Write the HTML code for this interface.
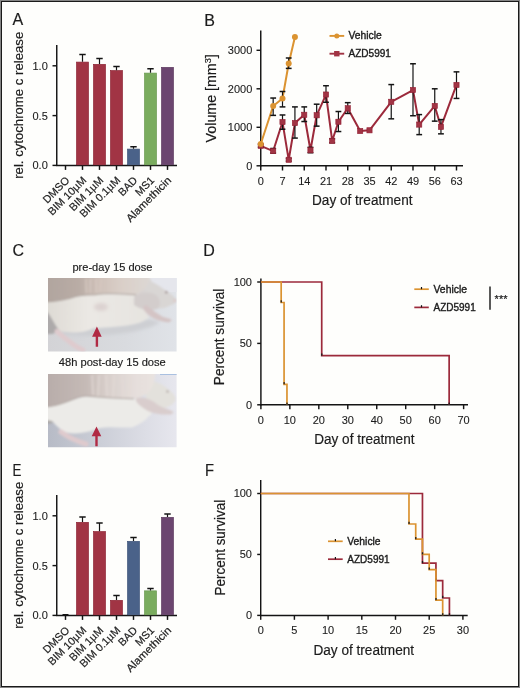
<!DOCTYPE html>
<html><head><meta charset="utf-8"><style>
html,body{margin:0;padding:0;background:#fefefc;width:520px;height:688px;overflow:hidden}
svg{display:block;will-change:transform}
text{font-family:'Liberation Sans',sans-serif;stroke:#1c1c1c;stroke-width:0.18px}
</style></head><body>
<svg width="520" height="688" viewBox="0 0 520 688">
<rect x="0" y="0" width="520" height="688" fill="#fefefc"/>
<text x="12.6" y="24.9" font-size="16" text-anchor="start" fill="#1c1c1c" >A</text>
<text transform="translate(22.8,105.3) rotate(-90)" x="0" y="0" font-size="13.5" text-anchor="middle" fill="#1c1c1c" textLength="147" lengthAdjust="spacingAndGlyphs">rel. cytochrome c release</text>
<line x1="56.75" y1="45" x2="56.75" y2="166.0" stroke="#141414" stroke-width="1.45"/>
<line x1="56.15" y1="165.4" x2="177" y2="165.4" stroke="#141414" stroke-width="1.45"/>
<line x1="52.5" y1="65.80000000000001" x2="56.75" y2="65.80000000000001" stroke="#141414" stroke-width="1.45"/>
<text x="47.8" y="69.7" font-size="11.7" text-anchor="end" fill="#1c1c1c" style="stroke-width:0.1px" textLength="15.29" lengthAdjust="spacingAndGlyphs" >1.0</text>
<line x1="52.5" y1="115.60000000000001" x2="56.75" y2="115.60000000000001" stroke="#141414" stroke-width="1.45"/>
<text x="47.8" y="119.5" font-size="11.7" text-anchor="end" fill="#1c1c1c" style="stroke-width:0.1px" textLength="15.29" lengthAdjust="spacingAndGlyphs" >0.5</text>
<line x1="52.5" y1="165.4" x2="56.75" y2="165.4" stroke="#141414" stroke-width="1.45"/>
<text x="47.8" y="169.3" font-size="11.7" text-anchor="end" fill="#1c1c1c" style="stroke-width:0.1px" textLength="15.29" lengthAdjust="spacingAndGlyphs" >0.0</text>
<line x1="65.5" y1="165.4" x2="65.5" y2="169.9" stroke="#141414" stroke-width="1.45"/>
<text transform="translate(70.1,181.0) rotate(-45)" font-size="10.8" text-anchor="end" fill="#1c1c1c">DMSO</text>
<line x1="82.5" y1="165.4" x2="82.5" y2="169.9" stroke="#141414" stroke-width="1.45"/>
<rect x="76.55" y="62.1" width="11.9" height="102.7" fill="#a13444" stroke="#8e2536" stroke-width="0.7"/>
<line x1="82.5" y1="54.5" x2="82.5" y2="61.75" stroke="#141414" stroke-width="1.2"/>
<line x1="79.3" y1="54.5" x2="85.7" y2="54.5" stroke="#141414" stroke-width="1.5"/>
<text transform="translate(87.1,181.0) rotate(-45)" font-size="10.8" text-anchor="end" fill="#1c1c1c">BIM 10µM</text>
<line x1="99.5" y1="165.4" x2="99.5" y2="169.9" stroke="#141414" stroke-width="1.45"/>
<rect x="93.55" y="64.35" width="11.9" height="100.45" fill="#a13444" stroke="#8e2536" stroke-width="0.7"/>
<line x1="99.5" y1="58.5" x2="99.5" y2="64" stroke="#141414" stroke-width="1.2"/>
<line x1="96.3" y1="58.5" x2="102.7" y2="58.5" stroke="#141414" stroke-width="1.5"/>
<text transform="translate(104.1,181.0) rotate(-45)" font-size="10.8" text-anchor="end" fill="#1c1c1c">BIM 1µM</text>
<line x1="116.5" y1="165.4" x2="116.5" y2="169.9" stroke="#141414" stroke-width="1.45"/>
<rect x="110.55" y="70.6" width="11.9" height="94.2" fill="#a13444" stroke="#8e2536" stroke-width="0.7"/>
<line x1="116.5" y1="66.5" x2="116.5" y2="70.25" stroke="#141414" stroke-width="1.2"/>
<line x1="113.3" y1="66.5" x2="119.7" y2="66.5" stroke="#141414" stroke-width="1.5"/>
<text transform="translate(121.1,181.0) rotate(-45)" font-size="10.8" text-anchor="end" fill="#1c1c1c">BIM 0.1µM</text>
<line x1="133.5" y1="165.4" x2="133.5" y2="169.9" stroke="#141414" stroke-width="1.45"/>
<rect x="127.55" y="149.1" width="11.9" height="15.700000000000006" fill="#4a6289" stroke="#3f5479" stroke-width="0.7"/>
<line x1="133.5" y1="146.75" x2="133.5" y2="148.75" stroke="#141414" stroke-width="1.2"/>
<line x1="130.3" y1="146.75" x2="136.7" y2="146.75" stroke="#141414" stroke-width="1.5"/>
<text transform="translate(138.1,181.0) rotate(-45)" font-size="10.8" text-anchor="end" fill="#1c1c1c">BAD</text>
<line x1="150.5" y1="165.4" x2="150.5" y2="169.9" stroke="#141414" stroke-width="1.45"/>
<rect x="144.55" y="73.1" width="11.9" height="91.7" fill="#7aac5e" stroke="#6a9a50" stroke-width="0.7"/>
<line x1="150.5" y1="68.75" x2="150.5" y2="72.75" stroke="#141414" stroke-width="1.2"/>
<line x1="147.3" y1="68.75" x2="153.7" y2="68.75" stroke="#141414" stroke-width="1.5"/>
<text transform="translate(155.1,181.0) rotate(-45)" font-size="10.8" text-anchor="end" fill="#1c1c1c">MS1</text>
<line x1="167.5" y1="165.4" x2="167.5" y2="169.9" stroke="#141414" stroke-width="1.45"/>
<rect x="161.55" y="67.35" width="11.9" height="97.45" fill="#6c4670" stroke="#5e3b60" stroke-width="0.7"/>
<text transform="translate(172.1,181.0) rotate(-45)" font-size="10.8" text-anchor="end" fill="#1c1c1c" textLength="59" lengthAdjust="spacingAndGlyphs">Alamethicin</text>
<text x="12.6" y="475.7" font-size="16" text-anchor="start" fill="#1c1c1c" textLength="8.9" lengthAdjust="spacingAndGlyphs" >E</text>
<text transform="translate(22.8,555.3) rotate(-90)" x="0" y="0" font-size="13.5" text-anchor="middle" fill="#1c1c1c" textLength="147" lengthAdjust="spacingAndGlyphs">rel. cytochrome c release</text>
<line x1="56.75" y1="495" x2="56.75" y2="616.0" stroke="#141414" stroke-width="1.45"/>
<line x1="56.15" y1="615.4" x2="177" y2="615.4" stroke="#141414" stroke-width="1.45"/>
<line x1="52.5" y1="515.8" x2="56.75" y2="515.8" stroke="#141414" stroke-width="1.45"/>
<text x="47.8" y="519.7" font-size="11.7" text-anchor="end" fill="#1c1c1c" style="stroke-width:0.1px" textLength="15.29" lengthAdjust="spacingAndGlyphs" >1.0</text>
<line x1="52.5" y1="565.6" x2="56.75" y2="565.6" stroke="#141414" stroke-width="1.45"/>
<text x="47.8" y="569.5" font-size="11.7" text-anchor="end" fill="#1c1c1c" style="stroke-width:0.1px" textLength="15.29" lengthAdjust="spacingAndGlyphs" >0.5</text>
<line x1="52.5" y1="615.4" x2="56.75" y2="615.4" stroke="#141414" stroke-width="1.45"/>
<text x="47.8" y="619.3" font-size="11.7" text-anchor="end" fill="#1c1c1c" style="stroke-width:0.1px" textLength="15.29" lengthAdjust="spacingAndGlyphs" >0.0</text>
<line x1="65.5" y1="615.4" x2="65.5" y2="619.9" stroke="#141414" stroke-width="1.45"/>
<line x1="62.5" y1="614.5" x2="68.5" y2="614.5" stroke="#141414" stroke-width="1.0"/>
<text transform="translate(70.1,631.0) rotate(-45)" font-size="10.8" text-anchor="end" fill="#1c1c1c">DMSO</text>
<line x1="82.5" y1="615.4" x2="82.5" y2="619.9" stroke="#141414" stroke-width="1.45"/>
<rect x="76.55" y="522.35" width="11.9" height="92.44999999999997" fill="#a13444" stroke="#8e2536" stroke-width="0.7"/>
<line x1="82.5" y1="517" x2="82.5" y2="522" stroke="#141414" stroke-width="1.2"/>
<line x1="79.3" y1="517" x2="85.7" y2="517" stroke="#141414" stroke-width="1.5"/>
<text transform="translate(87.1,631.0) rotate(-45)" font-size="10.8" text-anchor="end" fill="#1c1c1c">BIM 10µM</text>
<line x1="99.5" y1="615.4" x2="99.5" y2="619.9" stroke="#141414" stroke-width="1.45"/>
<rect x="93.55" y="531.6" width="11.9" height="83.19999999999997" fill="#a13444" stroke="#8e2536" stroke-width="0.7"/>
<line x1="99.5" y1="523" x2="99.5" y2="531.25" stroke="#141414" stroke-width="1.2"/>
<line x1="96.3" y1="523" x2="102.7" y2="523" stroke="#141414" stroke-width="1.5"/>
<text transform="translate(104.1,631.0) rotate(-45)" font-size="10.8" text-anchor="end" fill="#1c1c1c">BIM 1µM</text>
<line x1="116.5" y1="615.4" x2="116.5" y2="619.9" stroke="#141414" stroke-width="1.45"/>
<rect x="110.55" y="600.35" width="11.9" height="14.449999999999978" fill="#a13444" stroke="#8e2536" stroke-width="0.7"/>
<line x1="116.5" y1="595.5" x2="116.5" y2="600" stroke="#141414" stroke-width="1.2"/>
<line x1="113.3" y1="595.5" x2="119.7" y2="595.5" stroke="#141414" stroke-width="1.5"/>
<text transform="translate(121.1,631.0) rotate(-45)" font-size="10.8" text-anchor="end" fill="#1c1c1c">BIM 0.1µM</text>
<line x1="133.5" y1="615.4" x2="133.5" y2="619.9" stroke="#141414" stroke-width="1.45"/>
<rect x="127.55" y="541.35" width="11.9" height="73.44999999999997" fill="#4a6289" stroke="#3f5479" stroke-width="0.7"/>
<line x1="133.5" y1="537.5" x2="133.5" y2="541" stroke="#141414" stroke-width="1.2"/>
<line x1="130.3" y1="537.5" x2="136.7" y2="537.5" stroke="#141414" stroke-width="1.5"/>
<text transform="translate(138.1,631.0) rotate(-45)" font-size="10.8" text-anchor="end" fill="#1c1c1c">BAD</text>
<line x1="150.5" y1="615.4" x2="150.5" y2="619.9" stroke="#141414" stroke-width="1.45"/>
<rect x="144.55" y="590.85" width="11.9" height="23.949999999999978" fill="#7aac5e" stroke="#6a9a50" stroke-width="0.7"/>
<line x1="150.5" y1="588.5" x2="150.5" y2="590.5" stroke="#141414" stroke-width="1.2"/>
<line x1="147.3" y1="588.5" x2="153.7" y2="588.5" stroke="#141414" stroke-width="1.5"/>
<text transform="translate(155.1,631.0) rotate(-45)" font-size="10.8" text-anchor="end" fill="#1c1c1c">MS1</text>
<line x1="167.5" y1="615.4" x2="167.5" y2="619.9" stroke="#141414" stroke-width="1.45"/>
<rect x="161.55" y="517.35" width="11.9" height="97.44999999999997" fill="#6c4670" stroke="#5e3b60" stroke-width="0.7"/>
<line x1="167.5" y1="514" x2="167.5" y2="517" stroke="#141414" stroke-width="1.2"/>
<line x1="164.3" y1="514" x2="170.7" y2="514" stroke="#141414" stroke-width="1.5"/>
<text transform="translate(172.1,631.0) rotate(-45)" font-size="10.8" text-anchor="end" fill="#1c1c1c" textLength="59" lengthAdjust="spacingAndGlyphs">Alamethicin</text>
<text x="204.2" y="25.8" font-size="16" text-anchor="start" fill="#1c1c1c" >B</text>
<line x1="260.75" y1="30.5" x2="260.75" y2="166.4" stroke="#141414" stroke-width="1.45"/>
<line x1="260.15" y1="165.8" x2="463" y2="165.8" stroke="#141414" stroke-width="1.45"/>
<line x1="256.5" y1="165.8" x2="260.75" y2="165.8" stroke="#141414" stroke-width="1.45"/>
<text x="252.3" y="169.5" font-size="11.7" text-anchor="end" fill="#1c1c1c" style="stroke-width:0.1px" textLength="6.12" lengthAdjust="spacingAndGlyphs" >0</text>
<line x1="256.5" y1="127.30000000000001" x2="260.75" y2="127.30000000000001" stroke="#141414" stroke-width="1.45"/>
<text x="252.3" y="131.0" font-size="11.7" text-anchor="end" fill="#1c1c1c" style="stroke-width:0.1px" textLength="24.46" lengthAdjust="spacingAndGlyphs" >1000</text>
<line x1="256.5" y1="88.80000000000001" x2="260.75" y2="88.80000000000001" stroke="#141414" stroke-width="1.45"/>
<text x="252.3" y="92.5" font-size="11.7" text-anchor="end" fill="#1c1c1c" style="stroke-width:0.1px" textLength="24.46" lengthAdjust="spacingAndGlyphs" >2000</text>
<line x1="256.5" y1="50.30000000000001" x2="260.75" y2="50.30000000000001" stroke="#141414" stroke-width="1.45"/>
<text x="252.3" y="54.0" font-size="11.7" text-anchor="end" fill="#1c1c1c" style="stroke-width:0.1px" textLength="24.46" lengthAdjust="spacingAndGlyphs" >3000</text>
<line x1="260.75" y1="165.8" x2="260.75" y2="170.5" stroke="#141414" stroke-width="1.45"/>
<text x="260.75" y="184.9" font-size="11.7" text-anchor="middle" fill="#1c1c1c" style="stroke-width:0.1px" textLength="6.12" lengthAdjust="spacingAndGlyphs" >0</text>
<line x1="282.499" y1="165.8" x2="282.499" y2="170.5" stroke="#141414" stroke-width="1.45"/>
<text x="282.499" y="184.9" font-size="11.7" text-anchor="middle" fill="#1c1c1c" style="stroke-width:0.1px" textLength="6.12" lengthAdjust="spacingAndGlyphs" >7</text>
<line x1="304.248" y1="165.8" x2="304.248" y2="170.5" stroke="#141414" stroke-width="1.45"/>
<text x="304.248" y="184.9" font-size="11.7" text-anchor="middle" fill="#1c1c1c" style="stroke-width:0.1px" textLength="12.23" lengthAdjust="spacingAndGlyphs" >14</text>
<line x1="325.997" y1="165.8" x2="325.997" y2="170.5" stroke="#141414" stroke-width="1.45"/>
<text x="325.997" y="184.9" font-size="11.7" text-anchor="middle" fill="#1c1c1c" style="stroke-width:0.1px" textLength="12.23" lengthAdjust="spacingAndGlyphs" >21</text>
<line x1="347.746" y1="165.8" x2="347.746" y2="170.5" stroke="#141414" stroke-width="1.45"/>
<text x="347.746" y="184.9" font-size="11.7" text-anchor="middle" fill="#1c1c1c" style="stroke-width:0.1px" textLength="12.23" lengthAdjust="spacingAndGlyphs" >28</text>
<line x1="369.495" y1="165.8" x2="369.495" y2="170.5" stroke="#141414" stroke-width="1.45"/>
<text x="369.495" y="184.9" font-size="11.7" text-anchor="middle" fill="#1c1c1c" style="stroke-width:0.1px" textLength="12.23" lengthAdjust="spacingAndGlyphs" >35</text>
<line x1="391.244" y1="165.8" x2="391.244" y2="170.5" stroke="#141414" stroke-width="1.45"/>
<text x="391.244" y="184.9" font-size="11.7" text-anchor="middle" fill="#1c1c1c" style="stroke-width:0.1px" textLength="12.23" lengthAdjust="spacingAndGlyphs" >42</text>
<line x1="412.99300000000005" y1="165.8" x2="412.99300000000005" y2="170.5" stroke="#141414" stroke-width="1.45"/>
<text x="412.99300000000005" y="184.9" font-size="11.7" text-anchor="middle" fill="#1c1c1c" style="stroke-width:0.1px" textLength="12.23" lengthAdjust="spacingAndGlyphs" >49</text>
<line x1="434.742" y1="165.8" x2="434.742" y2="170.5" stroke="#141414" stroke-width="1.45"/>
<text x="434.742" y="184.9" font-size="11.7" text-anchor="middle" fill="#1c1c1c" style="stroke-width:0.1px" textLength="12.23" lengthAdjust="spacingAndGlyphs" >56</text>
<line x1="456.491" y1="165.8" x2="456.491" y2="170.5" stroke="#141414" stroke-width="1.45"/>
<text x="456.491" y="184.9" font-size="11.7" text-anchor="middle" fill="#1c1c1c" style="stroke-width:0.1px" textLength="12.23" lengthAdjust="spacingAndGlyphs" >63</text>
<text x="312" y="204.5" font-size="14" text-anchor="start" fill="#1c1c1c" textLength="100.5" lengthAdjust="spacingAndGlyphs" >Day of treatment</text>
<text transform="translate(216.0,98.3) rotate(-90)" font-size="14" text-anchor="middle" fill="#1c1c1c" textLength="88.2" lengthAdjust="spacingAndGlyphs">Volume [mm<tspan dy="-5" font-size="9">3</tspan><tspan dy="5">]</tspan></text>
<polyline points="260.75,145.82 273.18,151.05 282.50,122.06 288.71,159.79 294.93,123.07 304.25,114.79 310.46,150.28 316.68,115.29 326.00,94.54 332.21,140.81 338.43,121.79 347.75,108.28 360.17,131.03 369.50,130.30 391.24,101.81 412.99,90.03 419.21,124.57 434.74,105.93 440.96,126.92 456.49,84.95" fill="none" stroke="#9c2a3b" stroke-width="2.0" stroke-linejoin="round"/>
<line x1="260.75" y1="147.32000000000002" x2="260.75" y2="144.24" stroke="#141414" stroke-width="1.2"/>
<line x1="257.85" y1="147.32000000000002" x2="263.65" y2="147.32000000000002" stroke="#141414" stroke-width="1.5"/>
<line x1="257.85" y1="144.24" x2="263.65" y2="144.24" stroke="#141414" stroke-width="1.5"/>
<line x1="273.178" y1="153.095" x2="273.178" y2="148.47500000000002" stroke="#141414" stroke-width="1.2"/>
<line x1="270.278" y1="153.095" x2="276.078" y2="153.095" stroke="#141414" stroke-width="1.5"/>
<line x1="270.278" y1="148.47500000000002" x2="276.078" y2="148.47500000000002" stroke="#141414" stroke-width="1.5"/>
<line x1="282.499" y1="129.22500000000002" x2="282.499" y2="114.98000000000002" stroke="#141414" stroke-width="1.2"/>
<line x1="279.59900000000005" y1="129.22500000000002" x2="285.399" y2="129.22500000000002" stroke="#141414" stroke-width="1.5"/>
<line x1="279.59900000000005" y1="114.98000000000002" x2="285.399" y2="114.98000000000002" stroke="#141414" stroke-width="1.5"/>
<line x1="288.713" y1="161.18" x2="288.713" y2="158.485" stroke="#141414" stroke-width="1.2"/>
<line x1="285.81300000000005" y1="161.18" x2="291.613" y2="161.18" stroke="#141414" stroke-width="1.5"/>
<line x1="285.81300000000005" y1="158.485" x2="291.613" y2="158.485" stroke="#141414" stroke-width="1.5"/>
<line x1="294.927" y1="138.08" x2="294.927" y2="106.89500000000001" stroke="#141414" stroke-width="1.2"/>
<line x1="292.02700000000004" y1="138.08" x2="297.827" y2="138.08" stroke="#141414" stroke-width="1.5"/>
<line x1="292.02700000000004" y1="106.89500000000001" x2="297.827" y2="106.89500000000001" stroke="#141414" stroke-width="1.5"/>
<line x1="304.248" y1="121.525" x2="304.248" y2="106.89500000000001" stroke="#141414" stroke-width="1.2"/>
<line x1="301.348" y1="121.525" x2="307.14799999999997" y2="121.525" stroke="#141414" stroke-width="1.5"/>
<line x1="301.348" y1="106.89500000000001" x2="307.14799999999997" y2="106.89500000000001" stroke="#141414" stroke-width="1.5"/>
<line x1="310.462" y1="152.71" x2="310.462" y2="147.32000000000002" stroke="#141414" stroke-width="1.2"/>
<line x1="307.562" y1="152.71" x2="313.36199999999997" y2="152.71" stroke="#141414" stroke-width="1.5"/>
<line x1="307.562" y1="147.32000000000002" x2="313.36199999999997" y2="147.32000000000002" stroke="#141414" stroke-width="1.5"/>
<line x1="316.676" y1="126.14500000000001" x2="316.676" y2="104.20000000000002" stroke="#141414" stroke-width="1.2"/>
<line x1="313.776" y1="126.14500000000001" x2="319.57599999999996" y2="126.14500000000001" stroke="#141414" stroke-width="1.5"/>
<line x1="313.776" y1="104.20000000000002" x2="319.57599999999996" y2="104.20000000000002" stroke="#141414" stroke-width="1.5"/>
<line x1="325.997" y1="102.275" x2="325.997" y2="85.72000000000001" stroke="#141414" stroke-width="1.2"/>
<line x1="323.09700000000004" y1="102.275" x2="328.897" y2="102.275" stroke="#141414" stroke-width="1.5"/>
<line x1="323.09700000000004" y1="85.72000000000001" x2="328.897" y2="85.72000000000001" stroke="#141414" stroke-width="1.5"/>
<line x1="332.211" y1="142.70000000000002" x2="332.211" y2="138.85000000000002" stroke="#141414" stroke-width="1.2"/>
<line x1="329.31100000000004" y1="142.70000000000002" x2="335.111" y2="142.70000000000002" stroke="#141414" stroke-width="1.5"/>
<line x1="329.31100000000004" y1="138.85000000000002" x2="335.111" y2="138.85000000000002" stroke="#141414" stroke-width="1.5"/>
<line x1="338.425" y1="131.53500000000003" x2="338.425" y2="111.51500000000001" stroke="#141414" stroke-width="1.2"/>
<line x1="335.52500000000003" y1="131.53500000000003" x2="341.325" y2="131.53500000000003" stroke="#141414" stroke-width="1.5"/>
<line x1="335.52500000000003" y1="111.51500000000001" x2="341.325" y2="111.51500000000001" stroke="#141414" stroke-width="1.5"/>
<line x1="347.746" y1="113.44000000000001" x2="347.746" y2="102.66000000000001" stroke="#141414" stroke-width="1.2"/>
<line x1="344.846" y1="113.44000000000001" x2="350.64599999999996" y2="113.44000000000001" stroke="#141414" stroke-width="1.5"/>
<line x1="344.846" y1="102.66000000000001" x2="350.64599999999996" y2="102.66000000000001" stroke="#141414" stroke-width="1.5"/>
<line x1="391.244" y1="118.83000000000001" x2="391.244" y2="84.56500000000001" stroke="#141414" stroke-width="1.2"/>
<line x1="388.34400000000005" y1="118.83000000000001" x2="394.144" y2="118.83000000000001" stroke="#141414" stroke-width="1.5"/>
<line x1="388.34400000000005" y1="84.56500000000001" x2="394.144" y2="84.56500000000001" stroke="#141414" stroke-width="1.5"/>
<line x1="412.99300000000005" y1="115.75000000000001" x2="412.99300000000005" y2="63.775000000000006" stroke="#141414" stroke-width="1.2"/>
<line x1="410.0930000000001" y1="115.75000000000001" x2="415.89300000000003" y2="115.75000000000001" stroke="#141414" stroke-width="1.5"/>
<line x1="410.0930000000001" y1="63.775000000000006" x2="415.89300000000003" y2="63.775000000000006" stroke="#141414" stroke-width="1.5"/>
<line x1="419.207" y1="134.615" x2="419.207" y2="114.59500000000001" stroke="#141414" stroke-width="1.2"/>
<line x1="416.307" y1="134.615" x2="422.10699999999997" y2="134.615" stroke="#141414" stroke-width="1.5"/>
<line x1="416.307" y1="114.59500000000001" x2="422.10699999999997" y2="114.59500000000001" stroke="#141414" stroke-width="1.5"/>
<line x1="434.742" y1="121.14000000000001" x2="434.742" y2="88.80000000000001" stroke="#141414" stroke-width="1.2"/>
<line x1="431.84200000000004" y1="121.14000000000001" x2="437.642" y2="121.14000000000001" stroke="#141414" stroke-width="1.5"/>
<line x1="431.84200000000004" y1="88.80000000000001" x2="437.642" y2="88.80000000000001" stroke="#141414" stroke-width="1.5"/>
<line x1="440.956" y1="133.84500000000003" x2="440.956" y2="119.60000000000001" stroke="#141414" stroke-width="1.2"/>
<line x1="438.05600000000004" y1="133.84500000000003" x2="443.856" y2="133.84500000000003" stroke="#141414" stroke-width="1.5"/>
<line x1="438.05600000000004" y1="119.60000000000001" x2="443.856" y2="119.60000000000001" stroke="#141414" stroke-width="1.5"/>
<line x1="456.491" y1="98.42500000000001" x2="456.491" y2="71.86000000000001" stroke="#141414" stroke-width="1.2"/>
<line x1="453.591" y1="98.42500000000001" x2="459.39099999999996" y2="98.42500000000001" stroke="#141414" stroke-width="1.5"/>
<line x1="453.591" y1="71.86000000000001" x2="459.39099999999996" y2="71.86000000000001" stroke="#141414" stroke-width="1.5"/>
<rect x="258.15" y="143.22" width="5.2" height="5.2" fill="#a13444" stroke="#931f33" stroke-width="0.6"/>
<rect x="270.58" y="148.45" width="5.2" height="5.2" fill="#a13444" stroke="#931f33" stroke-width="0.6"/>
<rect x="279.90" y="119.46" width="5.2" height="5.2" fill="#a13444" stroke="#931f33" stroke-width="0.6"/>
<rect x="286.11" y="157.19" width="5.2" height="5.2" fill="#a13444" stroke="#931f33" stroke-width="0.6"/>
<rect x="292.33" y="120.47" width="5.2" height="5.2" fill="#a13444" stroke="#931f33" stroke-width="0.6"/>
<rect x="301.65" y="112.19" width="5.2" height="5.2" fill="#a13444" stroke="#931f33" stroke-width="0.6"/>
<rect x="307.86" y="147.68" width="5.2" height="5.2" fill="#a13444" stroke="#931f33" stroke-width="0.6"/>
<rect x="314.08" y="112.69" width="5.2" height="5.2" fill="#a13444" stroke="#931f33" stroke-width="0.6"/>
<rect x="323.40" y="91.94" width="5.2" height="5.2" fill="#a13444" stroke="#931f33" stroke-width="0.6"/>
<rect x="329.61" y="138.21" width="5.2" height="5.2" fill="#a13444" stroke="#931f33" stroke-width="0.6"/>
<rect x="335.82" y="119.19" width="5.2" height="5.2" fill="#a13444" stroke="#931f33" stroke-width="0.6"/>
<rect x="345.15" y="105.68" width="5.2" height="5.2" fill="#a13444" stroke="#931f33" stroke-width="0.6"/>
<rect x="357.57" y="128.43" width="5.2" height="5.2" fill="#a13444" stroke="#931f33" stroke-width="0.6"/>
<rect x="366.89" y="127.70" width="5.2" height="5.2" fill="#a13444" stroke="#931f33" stroke-width="0.6"/>
<rect x="388.64" y="99.21" width="5.2" height="5.2" fill="#a13444" stroke="#931f33" stroke-width="0.6"/>
<rect x="410.39" y="87.43" width="5.2" height="5.2" fill="#a13444" stroke="#931f33" stroke-width="0.6"/>
<rect x="416.61" y="121.97" width="5.2" height="5.2" fill="#a13444" stroke="#931f33" stroke-width="0.6"/>
<rect x="432.14" y="103.33" width="5.2" height="5.2" fill="#a13444" stroke="#931f33" stroke-width="0.6"/>
<rect x="438.36" y="124.32" width="5.2" height="5.2" fill="#a13444" stroke="#931f33" stroke-width="0.6"/>
<rect x="453.89" y="82.35" width="5.2" height="5.2" fill="#a13444" stroke="#931f33" stroke-width="0.6"/>
<polyline points="260.75,144.05 273.18,106.05 282.50,98.54 288.71,63.54 294.93,37.06" fill="none" stroke="#db9331" stroke-width="2.0" stroke-linejoin="round"/>
<line x1="273.178" y1="115.36500000000001" x2="273.178" y2="98.04" stroke="#141414" stroke-width="1.2"/>
<line x1="270.278" y1="115.36500000000001" x2="276.078" y2="115.36500000000001" stroke="#141414" stroke-width="1.5"/>
<line x1="270.278" y1="98.04" x2="276.078" y2="98.04" stroke="#141414" stroke-width="1.5"/>
<line x1="282.499" y1="106.89500000000001" x2="282.499" y2="91.49500000000002" stroke="#141414" stroke-width="1.2"/>
<line x1="279.59900000000005" y1="106.89500000000001" x2="285.399" y2="106.89500000000001" stroke="#141414" stroke-width="1.5"/>
<line x1="279.59900000000005" y1="91.49500000000002" x2="285.399" y2="91.49500000000002" stroke="#141414" stroke-width="1.5"/>
<line x1="288.713" y1="68.39500000000001" x2="288.713" y2="58.000000000000014" stroke="#141414" stroke-width="1.2"/>
<line x1="285.81300000000005" y1="68.39500000000001" x2="291.613" y2="68.39500000000001" stroke="#141414" stroke-width="1.5"/>
<line x1="285.81300000000005" y1="58.000000000000014" x2="291.613" y2="58.000000000000014" stroke="#141414" stroke-width="1.5"/>
<circle cx="260.75" cy="144.05" r="3.0" fill="#db9331"/>
<circle cx="273.18" cy="106.05" r="3.0" fill="#db9331"/>
<circle cx="282.50" cy="98.54" r="3.0" fill="#db9331"/>
<circle cx="288.71" cy="63.54" r="3.0" fill="#db9331"/>
<circle cx="294.93" cy="37.06" r="3.0" fill="#db9331"/>
<line x1="329.5" y1="35.9" x2="344.2" y2="35.9" stroke="#db9331" stroke-width="1.9"/>
<circle cx="336.8" cy="35.9" r="2.5" fill="#db9331"/>
<text x="348.5" y="39.2" font-size="10.6" text-anchor="start" fill="#1c1c1c" style="stroke-width:0.38px" textLength="33.3" lengthAdjust="spacingAndGlyphs" >Vehicle</text>
<line x1="329.5" y1="53.7" x2="344.2" y2="53.7" stroke="#a13444" stroke-width="1.9"/>
<rect x="334.1" y="51" width="5.4" height="5.4" fill="#a13444"/>
<text x="348.5" y="57.2" font-size="10.6" text-anchor="start" fill="#1c1c1c" style="stroke-width:0.38px" textLength="42.4" lengthAdjust="spacingAndGlyphs" >AZD5991</text>
<text x="12.6" y="255.6" font-size="16" text-anchor="start" fill="#1c1c1c" >C</text>
<text x="112.4" y="270.7" font-size="11.8" text-anchor="middle" fill="#1c1c1c" textLength="80" lengthAdjust="spacingAndGlyphs" >pre-day 15 dose</text>
<text x="112.3" y="365.9" font-size="11.8" text-anchor="middle" fill="#1c1c1c" textLength="107" lengthAdjust="spacingAndGlyphs" >48h post-day 15 dose</text>
<defs>
<filter id="bl1" x="-10%" y="-10%" width="120%" height="120%"><feGaussianBlur stdDeviation="0.8"/></filter>
<filter id="bl2" x="-20%" y="-20%" width="140%" height="140%"><feGaussianBlur stdDeviation="1.5"/></filter>
<clipPath id="cp1"><rect x="48" y="278" width="128.6" height="73.5"/></clipPath>
<clipPath id="cp2"><rect x="48" y="374" width="128.6" height="73.3"/></clipPath>
<linearGradient id="glv1" gradientUnits="userSpaceOnUse" x1="48" y1="0" x2="150" y2="0">
 <stop offset="0" stop-color="#b1a59f"/><stop offset="0.3" stop-color="#b9aca5"/><stop offset="0.5" stop-color="#cfc1b9"/><stop offset="0.7" stop-color="#d9cec7"/><stop offset="1" stop-color="#ddd8d4"/>
</linearGradient>
<linearGradient id="bg1" gradientUnits="userSpaceOnUse" x1="48" y1="0" x2="177" y2="0">
 <stop offset="0" stop-color="#d3d3d6"/><stop offset="0.6" stop-color="#d9dbdf"/><stop offset="1" stop-color="#e0e3e8"/>
</linearGradient>
<linearGradient id="body1" gradientUnits="userSpaceOnUse" x1="48" y1="0" x2="150" y2="0">
 <stop offset="0" stop-color="#dedbd5"/><stop offset="0.4" stop-color="#ebe8e4"/><stop offset="1" stop-color="#e6e4e0"/>
</linearGradient>
<linearGradient id="glv2" gradientUnits="userSpaceOnUse" x1="48" y1="0" x2="156" y2="0">
 <stop offset="0" stop-color="#b8adaa"/><stop offset="0.35" stop-color="#c5bab6"/><stop offset="0.55" stop-color="#d8cfcb"/><stop offset="0.8" stop-color="#e5dedb"/><stop offset="1" stop-color="#e9e3e0"/>
</linearGradient>
<linearGradient id="bg2" gradientUnits="userSpaceOnUse" x1="48" y1="0" x2="177" y2="0">
 <stop offset="0" stop-color="#b7bbc6"/><stop offset="0.4" stop-color="#cbced7"/><stop offset="0.75" stop-color="#dcdde5"/><stop offset="1" stop-color="#e7e7ee"/>
</linearGradient>
</defs>
<g clip-path="url(#cp1)">
 <rect x="48" y="278" width="129" height="74" fill="url(#bg1)"/>
 <rect x="140" y="278" width="37" height="14" fill="#e5e6ec"/>
 <g filter="url(#bl1)">
  <path d="M60,328 C90,329 120,328 148,319 L160,322 C150,330 120,335 90,336 C75,336 65,335 60,334 Z" fill="#cdcfd3" filter="url(#bl2)"/>
  <path d="M46,311 L52,316 L57,324 L60,331 L52,334 L46,334 Z" fill="#adaaaa"/>
  <path d="M46,301.5 C60,300.5 70,298 80,295 C95,293 110,293 135,294.5 L142,302 L149,318 C142,322 139,323 135,324 C125,326.5 110,327 94,328 C84,333 72,333.5 60,331 C56,327 52,318 46,310 Z" fill="url(#body1)"/>
  <ellipse cx="101" cy="307" rx="7" ry="4" fill="#dcd2d0" filter="url(#bl2)"/>
  
  <path d="M134,292 C140,286 146,281 151,279 L152,300 L136,300 Z" fill="#d8d3d2"/>
  <path d="M144,279 C152,281 160,286 165,290 C170,293 174,296 176.5,300 C176.5,303 173,304.5 170,305.5 C166,307.5 162,309 158,308.5 L145,300 Z" fill="#d9d6d4"/>
  <path d="M134,297 C140,292 149,291 156,295 C161,299 161,306 157,309 C150,311 141,310 134,305 Z" fill="#d3cdcc"/>
  <path d="M146,305 C152,310 158,314 163,317 C166,318 169,318 172,320 L169,322.5 C162,322 156,320 150,316 C146,313 143,310 143,307 Z" fill="#d4c4c5"/>
  <path d="M46,276 H150 C149,284 146,290 136,294.5 C120,293.5 105,292.5 95,294.5 C85,294.5 78,295 70,298 C60,300.5 52,301.5 46,301.5 Z" fill="url(#glv1)"/>
  <path d="M46,301.8 C52,301.8 60,300.8 70,298.3 C78,295.3 85,294.8 95,294.8 C105,292.8 120,293.8 136,294.8" stroke="#a99d97" stroke-width="1" fill="none"/>
  <path d="M86,279 L86.5,293 M90.5,279 L90,293 M96,279 L96.5,293 M101,279 L100,292" stroke="#d8cbc3" stroke-width="1.3" fill="none"/>
  <path d="M57,331.5 C63,337 70,342 74,345 C77,347 80,349 83,350" stroke="#dfcbce" stroke-width="5" fill="none" stroke-linecap="round"/>
  <circle cx="166.3" cy="292.3" r="1.1" fill="#8a7474"/>
  <circle cx="175" cy="300.5" r="1.6" fill="#dcc8c8"/>
 </g>
 <path d="M96.9,326.5 L101.7,336.8 L98.1,336.8 L98.1,346.8 L95.7,346.8 L95.7,336.8 L92.1,336.8 Z" fill="#b02a44"/>
</g>
<g clip-path="url(#cp2)">
 <rect x="48" y="374" width="129" height="74" fill="url(#bg2)"/>
 <line x1="160" y1="374.5" x2="177" y2="374.5" stroke="#a9c0e0" stroke-width="1"/>
 <g filter="url(#bl1)">
  <path d="M46,403 L56,404 L56,422 L46,424 Z" fill="#a9a5a2"/>
  <path d="M46,406 C60,404 72,400 84,396 C100,396 120,398 140,399 L150,403 L154,406 C152,412 151,416 149,416 C145,421 140,424 132,427.5 C120,428 108,426 97,429 C88,432 78,435 66,432.5 C60,430 56,425 52,421 L46,420 Z" fill="#ecebe8"/>
  
  <path d="M146,381 C154,380 162,384 168,389 C173,393 176,396 175.5,400 C174,404 170,406 166,407.5 C160,409 152,408.5 146,405 Z" fill="#e3e1dc"/>
  <path d="M136,398 C144,396 152,400 158,405 C163,408 168,409 174,412 L171,414.5 C163,415 155,414 148,411 C142,408 138,404 136,401 Z" fill="#d9cdcd"/>
  <path d="M46,372 H155 C156,380 152,388 149,392 C143,397 138,398 134,398.5 C120,398 105,397.5 90,396 C84,395 79,397 76,398 C66,402 56,406 46,406.5 Z" fill="url(#glv2)"/>
  <path d="M46,406.8 C56,406.3 66,402.3 76,398.3 C79,397.3 84,395.3 90,396.3 C105,397.8 120,398.3 134,398.8" stroke="#aca09b" stroke-width="1" fill="none"/>
  <path d="M92,375 L93,395 M99,375 L98,396 M106,375 L107,396 M114,375 L113,397 M122,375 L123,397 M131,375 L130,397" stroke="#e4dbd7" stroke-width="1.2" fill="none"/>
  <path d="M61,432 C68,437 76,441 86,444" stroke="#dfcacd" stroke-width="5" fill="none" stroke-linecap="round"/>
  <circle cx="167.5" cy="391.6" r="1" fill="#9a8888"/>
 </g>
 <path d="M96.5,426.5 L101.3,436.3 L97.7,436.3 L97.7,446.3 L95.3,446.3 L95.3,436.3 L91.7,436.3 Z" fill="#b02a44"/>
</g>

<text x="203.2" y="255.8" font-size="16" text-anchor="start" fill="#1c1c1c" >D</text>
<line x1="260.9" y1="278.5" x2="260.9" y2="405.40000000000003" stroke="#141414" stroke-width="1.45"/>
<line x1="260.29999999999995" y1="404.8" x2="468" y2="404.8" stroke="#141414" stroke-width="1.45"/>
<line x1="257.2" y1="404.8" x2="260.9" y2="404.8" stroke="#141414" stroke-width="1.45"/>
<text x="252" y="408.5" font-size="11.7" text-anchor="end" fill="#1c1c1c" style="stroke-width:0.1px" textLength="6.12" lengthAdjust="spacingAndGlyphs" >0</text>
<line x1="257.2" y1="343.4" x2="260.9" y2="343.4" stroke="#141414" stroke-width="1.45"/>
<text x="252" y="347.1" font-size="11.7" text-anchor="end" fill="#1c1c1c" style="stroke-width:0.1px" textLength="12.23" lengthAdjust="spacingAndGlyphs" >50</text>
<line x1="257.2" y1="282.0" x2="260.9" y2="282.0" stroke="#141414" stroke-width="1.45"/>
<text x="252" y="285.7" font-size="11.7" text-anchor="end" fill="#1c1c1c" style="stroke-width:0.1px" textLength="18.35" lengthAdjust="spacingAndGlyphs" >100</text>
<line x1="260.9" y1="404.8" x2="260.9" y2="409.2" stroke="#141414" stroke-width="1.45"/>
<text x="260.9" y="424.3" font-size="11.7" text-anchor="middle" fill="#1c1c1c" style="stroke-width:0.1px" textLength="6.12" lengthAdjust="spacingAndGlyphs" >0</text>
<line x1="289.85999999999996" y1="404.8" x2="289.85999999999996" y2="409.2" stroke="#141414" stroke-width="1.45"/>
<text x="289.85999999999996" y="424.3" font-size="11.7" text-anchor="middle" fill="#1c1c1c" style="stroke-width:0.1px" textLength="12.23" lengthAdjust="spacingAndGlyphs" >10</text>
<line x1="318.82" y1="404.8" x2="318.82" y2="409.2" stroke="#141414" stroke-width="1.45"/>
<text x="318.82" y="424.3" font-size="11.7" text-anchor="middle" fill="#1c1c1c" style="stroke-width:0.1px" textLength="12.23" lengthAdjust="spacingAndGlyphs" >20</text>
<line x1="347.78" y1="404.8" x2="347.78" y2="409.2" stroke="#141414" stroke-width="1.45"/>
<text x="347.78" y="424.3" font-size="11.7" text-anchor="middle" fill="#1c1c1c" style="stroke-width:0.1px" textLength="12.23" lengthAdjust="spacingAndGlyphs" >30</text>
<line x1="376.74" y1="404.8" x2="376.74" y2="409.2" stroke="#141414" stroke-width="1.45"/>
<text x="376.74" y="424.3" font-size="11.7" text-anchor="middle" fill="#1c1c1c" style="stroke-width:0.1px" textLength="12.23" lengthAdjust="spacingAndGlyphs" >40</text>
<line x1="405.69999999999993" y1="404.8" x2="405.69999999999993" y2="409.2" stroke="#141414" stroke-width="1.45"/>
<text x="405.69999999999993" y="424.3" font-size="11.7" text-anchor="middle" fill="#1c1c1c" style="stroke-width:0.1px" textLength="12.23" lengthAdjust="spacingAndGlyphs" >50</text>
<line x1="434.65999999999997" y1="404.8" x2="434.65999999999997" y2="409.2" stroke="#141414" stroke-width="1.45"/>
<text x="434.65999999999997" y="424.3" font-size="11.7" text-anchor="middle" fill="#1c1c1c" style="stroke-width:0.1px" textLength="12.23" lengthAdjust="spacingAndGlyphs" >60</text>
<line x1="463.62" y1="404.8" x2="463.62" y2="409.2" stroke="#141414" stroke-width="1.45"/>
<text x="463.62" y="424.3" font-size="11.7" text-anchor="middle" fill="#1c1c1c" style="stroke-width:0.1px" textLength="12.23" lengthAdjust="spacingAndGlyphs" >70</text>
<text x="314.2" y="443.8" font-size="14" text-anchor="start" fill="#1c1c1c" textLength="100.3" lengthAdjust="spacingAndGlyphs" >Day of treatment</text>
<text transform="translate(224.2,336.9) rotate(-90)" font-size="14" text-anchor="middle" fill="#1c1c1c" textLength="96.5" lengthAdjust="spacingAndGlyphs">Percent survival</text>
<path d="M260.90,282.00 H321.72 V355.68 H449.14 V404.80" fill="none" stroke="#9c2a3b" stroke-width="1.7"/>
<rect x="321.12" y="353.48" width="1.3" height="2.2" fill="#1c1c1c"/>
<rect x="448.54" y="402.60" width="1.3" height="2.2" fill="#1c1c1c"/>
<path d="M260.90,282.00 H281.17 V302.51 H284.07 V384.29 H286.96 V404.80" fill="none" stroke="#db9331" stroke-width="1.7"/>
<rect x="280.57" y="300.31" width="1.3" height="2.2" fill="#1c1c1c"/>
<rect x="283.47" y="382.09" width="1.3" height="2.2" fill="#1c1c1c"/>
<rect x="286.36" y="402.60" width="1.3" height="2.2" fill="#1c1c1c"/>
<line x1="414.3" y1="289.2" x2="428.8" y2="289.2" stroke="#db9331" stroke-width="1.7"/>
<line x1="421.5" y1="287.0" x2="421.5" y2="289.2" stroke="#141414" stroke-width="1.2"/>
<text x="433.5" y="292.8" font-size="10.6" text-anchor="start" fill="#1c1c1c" style="stroke-width:0.38px" textLength="33.5" lengthAdjust="spacingAndGlyphs" >Vehicle</text>
<line x1="414.3" y1="307.4" x2="428.8" y2="307.4" stroke="#9c2a3b" stroke-width="1.7"/>
<line x1="421.5" y1="305.2" x2="421.5" y2="307.4" stroke="#141414" stroke-width="1.2"/>
<text x="433.5" y="311.2" font-size="10.6" text-anchor="start" fill="#1c1c1c" style="stroke-width:0.38px" textLength="42.2" lengthAdjust="spacingAndGlyphs" >AZD5991</text>
<line x1="490" y1="286.6" x2="490" y2="309.8" stroke="#141414" stroke-width="1.4"/>
<text x="494.6" y="302.6" font-size="10.5" text-anchor="start" fill="#1c1c1c" textLength="13" lengthAdjust="spacingAndGlyphs" >***</text>
<text x="204.9" y="475.6" font-size="16" text-anchor="start" fill="#1c1c1c" textLength="9.0" lengthAdjust="spacingAndGlyphs" >F</text>
<line x1="260.7" y1="480" x2="260.7" y2="616.0" stroke="#141414" stroke-width="1.45"/>
<line x1="260.09999999999997" y1="615.4" x2="467.7" y2="615.4" stroke="#141414" stroke-width="1.45"/>
<line x1="257.2" y1="615.4" x2="260.7" y2="615.4" stroke="#141414" stroke-width="1.45"/>
<text x="252" y="619.1" font-size="11.7" text-anchor="end" fill="#1c1c1c" style="stroke-width:0.1px" textLength="6.12" lengthAdjust="spacingAndGlyphs" >0</text>
<line x1="257.2" y1="554.45" x2="260.7" y2="554.45" stroke="#141414" stroke-width="1.45"/>
<text x="252" y="558.15" font-size="11.7" text-anchor="end" fill="#1c1c1c" style="stroke-width:0.1px" textLength="12.23" lengthAdjust="spacingAndGlyphs" >50</text>
<line x1="257.2" y1="493.5" x2="260.7" y2="493.5" stroke="#141414" stroke-width="1.45"/>
<text x="252" y="497.2" font-size="11.7" text-anchor="end" fill="#1c1c1c" style="stroke-width:0.1px" textLength="18.35" lengthAdjust="spacingAndGlyphs" >100</text>
<line x1="260.7" y1="615.4" x2="260.7" y2="619.8" stroke="#141414" stroke-width="1.45"/>
<text x="260.7" y="634.3" font-size="11.7" text-anchor="middle" fill="#1c1c1c" style="stroke-width:0.1px" textLength="6.12" lengthAdjust="spacingAndGlyphs" >0</text>
<line x1="294.4" y1="615.4" x2="294.4" y2="619.8" stroke="#141414" stroke-width="1.45"/>
<text x="294.4" y="634.3" font-size="11.7" text-anchor="middle" fill="#1c1c1c" style="stroke-width:0.1px" textLength="6.12" lengthAdjust="spacingAndGlyphs" >5</text>
<line x1="328.1" y1="615.4" x2="328.1" y2="619.8" stroke="#141414" stroke-width="1.45"/>
<text x="328.1" y="634.3" font-size="11.7" text-anchor="middle" fill="#1c1c1c" style="stroke-width:0.1px" textLength="12.23" lengthAdjust="spacingAndGlyphs" >10</text>
<line x1="361.8" y1="615.4" x2="361.8" y2="619.8" stroke="#141414" stroke-width="1.45"/>
<text x="361.8" y="634.3" font-size="11.7" text-anchor="middle" fill="#1c1c1c" style="stroke-width:0.1px" textLength="12.23" lengthAdjust="spacingAndGlyphs" >15</text>
<line x1="395.5" y1="615.4" x2="395.5" y2="619.8" stroke="#141414" stroke-width="1.45"/>
<text x="395.5" y="634.3" font-size="11.7" text-anchor="middle" fill="#1c1c1c" style="stroke-width:0.1px" textLength="12.23" lengthAdjust="spacingAndGlyphs" >20</text>
<line x1="429.2" y1="615.4" x2="429.2" y2="619.8" stroke="#141414" stroke-width="1.45"/>
<text x="429.2" y="634.3" font-size="11.7" text-anchor="middle" fill="#1c1c1c" style="stroke-width:0.1px" textLength="12.23" lengthAdjust="spacingAndGlyphs" >25</text>
<line x1="462.9" y1="615.4" x2="462.9" y2="619.8" stroke="#141414" stroke-width="1.45"/>
<text x="462.9" y="634.3" font-size="11.7" text-anchor="middle" fill="#1c1c1c" style="stroke-width:0.1px" textLength="12.23" lengthAdjust="spacingAndGlyphs" >30</text>
<text x="313.4" y="654.7" font-size="14" text-anchor="start" fill="#1c1c1c" textLength="100.7" lengthAdjust="spacingAndGlyphs" >Day of treatment</text>
<text transform="translate(224.6,547.6) rotate(-90)" font-size="14" text-anchor="middle" fill="#1c1c1c" textLength="95.6" lengthAdjust="spacingAndGlyphs">Percent survival</text>
<path d="M260.70,493.50 H422.46 V563.15 H435.94 V580.57 H442.68 V597.98 H449.42 V615.40" fill="none" stroke="#9c2a3b" stroke-width="1.7"/>
<rect x="421.86" y="560.95" width="1.3" height="2.2" fill="#1c1c1c"/>
<rect x="435.34" y="578.37" width="1.3" height="2.2" fill="#1c1c1c"/>
<rect x="442.08" y="595.78" width="1.3" height="2.2" fill="#1c1c1c"/>
<rect x="448.82" y="613.20" width="1.3" height="2.2" fill="#1c1c1c"/>
<path d="M260.70,493.50 H408.98 V523.98 H415.72 V539.21 H422.46 V554.45 H429.20 V569.69 H435.94 V600.16 H442.68 V615.40" fill="none" stroke="#db9331" stroke-width="1.7"/>
<rect x="408.38" y="521.77" width="1.3" height="2.2" fill="#1c1c1c"/>
<rect x="415.12" y="537.01" width="1.3" height="2.2" fill="#1c1c1c"/>
<rect x="421.86" y="552.25" width="1.3" height="2.2" fill="#1c1c1c"/>
<rect x="428.60" y="567.49" width="1.3" height="2.2" fill="#1c1c1c"/>
<rect x="435.34" y="597.96" width="1.3" height="2.2" fill="#1c1c1c"/>
<rect x="442.08" y="613.20" width="1.3" height="2.2" fill="#1c1c1c"/>
<line x1="328" y1="541.3" x2="342.7" y2="541.3" stroke="#db9331" stroke-width="1.7"/>
<line x1="335.4" y1="539.0" x2="335.4" y2="541.3" stroke="#141414" stroke-width="1.2"/>
<text x="347.3" y="545.0" font-size="10.6" text-anchor="start" fill="#1c1c1c" style="stroke-width:0.38px" textLength="33.3" lengthAdjust="spacingAndGlyphs" >Vehicle</text>
<line x1="328" y1="559.2" x2="342.7" y2="559.2" stroke="#9c2a3b" stroke-width="1.7"/>
<line x1="335.4" y1="556.9" x2="335.4" y2="559.2" stroke="#141414" stroke-width="1.2"/>
<text x="347.3" y="562.6" font-size="10.6" text-anchor="start" fill="#1c1c1c" style="stroke-width:0.38px" textLength="42.3" lengthAdjust="spacingAndGlyphs" >AZD5991</text>
<rect x="0.5" y="0.5" width="519" height="687" fill="none" stroke="#858585" stroke-width="1"/>
<rect x="1.5" y="1.5" width="517" height="685" fill="none" stroke="#1a1a1a" stroke-width="1"/>
</svg>
</body></html>
